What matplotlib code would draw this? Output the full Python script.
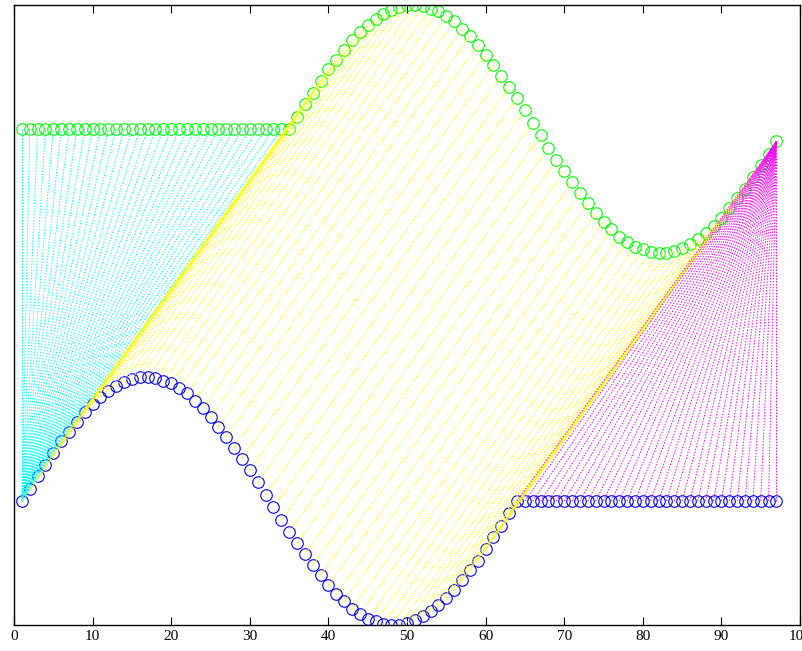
import numpy as np
from matplotlib import pyplot as plt

# one period of the wave (amplitude ~1, 63 steps)
wave = [0.00, 0.10, 0.20, 0.29, 0.39, 0.48, 0.56, 0.64, 0.72, 0.78,
        0.84, 0.89, 0.93, 0.96, 0.98, 1.00, 1.00, 0.99, 0.97, 0.95,
        0.91, 0.87, 0.81, 0.75, 0.68, 0.60, 0.52, 0.43, 0.34, 0.25,
        0.15, 0.05, -0.05, -0.15, -0.25, -0.34, -0.43, -0.52, -0.60, -0.68,
        -0.75, -0.81, -0.87, -0.91, -0.95, -0.97, -0.99, -1.00, -1.00, -0.98,
        -0.96, -0.93, -0.89, -0.84, -0.78, -0.72, -0.64, -0.56, -0.48, -0.39,
        -0.29, -0.20, -0.10, 0.00]

# blue sequence: wave then flat; green sequence: flat then wave (drawn +3)
blue = wave + [0.0] * 33
green = [0.0] * 34 + wave[:63]
green_offset = 3

# warping path: lag between the two sequences (samples)
n = len(blue)
shift = 34

x = np.arange(1, n + 1)
b = np.array(blue)
g = np.array(green) + green_offset

fig = plt.figure(figsize=(8.03, 6.51), dpi=100)
ax = fig.add_axes([14 / 803, 26 / 651, 786 / 803, 620 / 651])

ax.plot(x, b, 'o', mfc='none', mec='#0000ff', ms=8.3, mew=0.8)
ax.plot(x, g, 'o', mfc='none', mec='#00ff00', ms=8.3, mew=0.8)

dot = (0, (1.5, 1.5))
# cyan: first blue point matched to the flat green start
for j in range(1, shift + 1):
    ax.plot([1, j], [b[0], g[j - 1]], ls=dot, color='#00ffff', lw=0.7)
# yellow: diagonal matches
for i in range(1, n - shift + 1):
    ax.plot([i, i + shift], [b[i - 1], g[i + shift - 1]], ls=dot, color='#ffff00', lw=0.7)
# magenta: flat blue end matched to last green point
for i in range(n - shift + 1, n + 1):
    ax.plot([i, n], [b[i - 1], g[n - 1]], ls=dot, color='#ff00ff', lw=0.7)

ax.set_xlim(0, 100)
ax.set_ylim(-1, 4)
ax.set_xticks(np.arange(0, 101, 10))
ax.set_yticks([])
ax.tick_params(axis='x', direction='in', top=True, length=6, labelsize=11)
for lbl in ax.get_xticklabels():
    lbl.set_fontfamily('Liberation Serif')
for s in ax.spines.values():
    s.set_linewidth(1.0)

fig.savefig('out.png', dpi=100)
